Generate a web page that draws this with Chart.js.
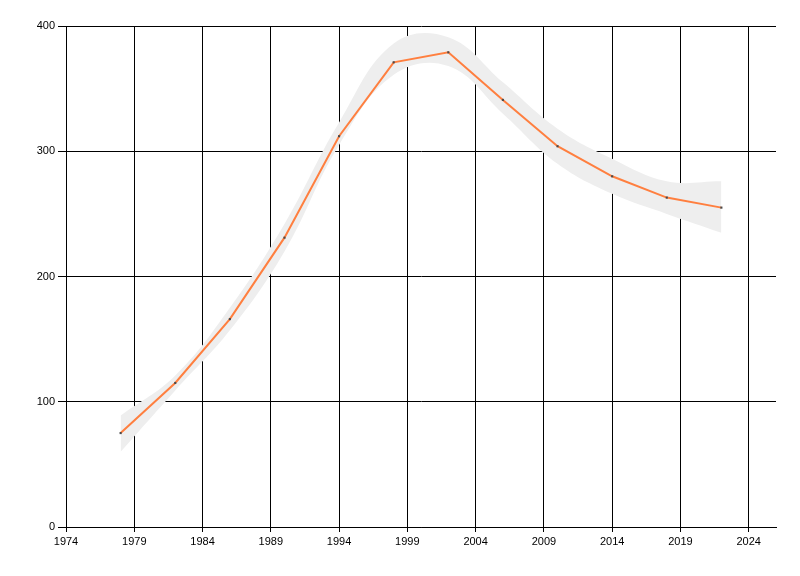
<!DOCTYPE html>
<html>
<head>
<meta charset="utf-8">
<script src="https://cdn.jsdelivr.net/npm/chart.js@4/dist/chart.umd.min.js"></script>
<style>
  html, body { margin: 0; padding: 0; background: #fff; }
  #wrap { width: 800px; height: 576px; position: relative; }
</style>
</head>
<body>
<div id="wrap"><canvas id="trendChart"></canvas></div>
<script>
// ----------------------------
// Data
// ----------------------------
const years = [1978, 1982, 1986, 1990, 1994, 1998, 2002, 2006, 2010, 2014, 2018, 2022];
const values = [75, 115, 166, 231, 312, 371, 379, 341, 304, 280, 263, 255];
const bandUpper = [89, 121, 175, 242, 323, 386, 391, 355, 318, 294, 276, 276];
const bandLower = [60, 109, 157, 220, 305, 361, 368, 330, 290, 266, 250, 235];
const xTicks = [1974, 1979, 1984, 1989, 1994, 1999, 2004, 2009, 2014, 2019, 2024];
const yTicks = [0, 100, 200, 300, 400];

const toXY = (ys) => years.map((x, i) => ({ x, y: ys[i] }));

// ----------------------------
// Chart
// ----------------------------
const ctx = document.getElementById("trendChart").getContext("2d");
const font = { family: "'Liberation Sans', Arial, sans-serif", size: 11 };

new Chart(ctx, {
  type: 'line',
  data: {
    datasets: [
      {
        data: toXY(values),
        borderColor: '#ff7f3f',
        borderWidth: 2,
        tension: 0,
        pointStyle: 'rect',
        pointRadius: 1.5,
        pointBackgroundColor: '#4a4a4a',
        pointBorderColor: '#4a4a4a',
        pointBorderWidth: 0,
        fill: false
      },
      {
        data: toXY(bandUpper),
        borderWidth: 0,
        borderColor: 'rgba(0,0,0,0)',
        backgroundColor: '#eeeeee',
        pointRadius: 0,
        tension: 0.4,
        fill: '+1'
      },
      {
        data: toXY(bandLower),
        borderWidth: 0,
        borderColor: 'rgba(0,0,0,0)',
        pointRadius: 0,
        tension: 0.4,
        fill: false
      }
    ]
  },
  options: {
    responsive: true,
    maintainAspectRatio: false,
    animation: false,
    layout: { padding: { top: 26, right: 24, left: 0, bottom: 0 } },
    plugins: { legend: { display: false }, tooltip: { enabled: false } },
    scales: {
      x: {
        type: 'linear',
        min: 1974,
        max: 2026,
        afterBuildTicks: (axis) => { axis.ticks = xTicks.map(v => ({ value: v })); },
        afterFit: (axis) => { axis.height = 49; },
        ticks: { color: '#000', font, padding: 3, maxRotation: 0, autoSkip: false, callback: v => String(v) },
        grid: { color: '#000', lineWidth: 1, tickLength: 5, tickColor: '#000' },
        border: { color: '#000', width: 1 }
      },
      y: {
        min: 0,
        max: 400,
        afterBuildTicks: (axis) => { axis.ticks = yTicks.map(v => ({ value: v })); },
        afterFit: (axis) => { axis.width = 66; },
        ticks: { color: '#000', font, padding: 3, callback: v => String(v) },
        grid: { color: '#000', lineWidth: 1, tickLength: 8, tickColor: '#000' },
        border: { color: '#000', width: 1 }
      }
    }
  }
});
</script>
</body>
</html>
